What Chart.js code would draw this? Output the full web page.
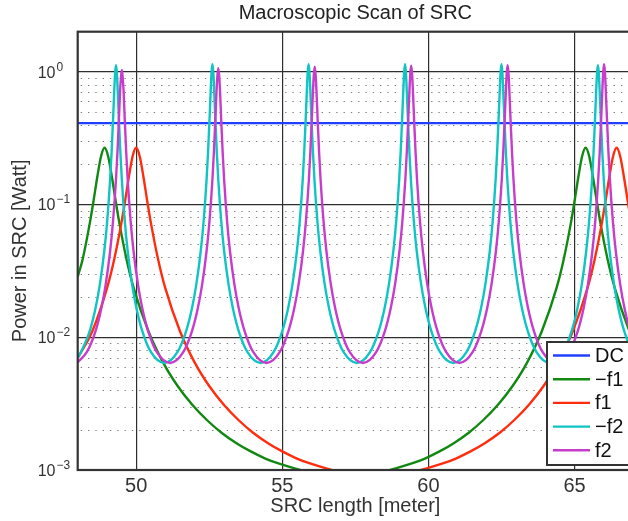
<!DOCTYPE html>
<html lang="en">
<head>
<meta charset="UTF-8">
<title>Macroscopic Scan of SRC</title>
<script src="https://cdn.jsdelivr.net/npm/chart.js"></script>
<style>
  html, body { margin: 0; padding: 0; background: #fff; overflow: hidden; }
  /* the figure is a bit wider than the window, so the right edge is cut like in the original */
  #wrap { position: relative; width: 640px; height: 521px; }
</style>
</head>
<body>
<div id="wrap"><canvas id="srcChart"></canvas></div>
<script>
const FONT = "'Liberation Sans', Arial, Helvetica, sans-serif";
const chartTitle = 'Macroscopic Scan of SRC';

// axis ticks
const xTicks = [50, 55, 60, 65];
const yTickValues = [1, 0.1, 0.01, 0.001];
const yTickExponents = ['0', '\u22121', '\u22122', '\u22123'];
const yMinorTicks = [0.002, 0.003, 0.004, 0.005, 0.006, 0.007, 0.008, 0.009,
                     0.02, 0.03, 0.04, 0.05, 0.06, 0.07, 0.08, 0.09,
                     0.2, 0.3, 0.4, 0.5, 0.6, 0.7, 0.8, 0.9];

// DC
const dcX = [48, 67];
const dcY = [0.41, 0.41];

// -f1
const minusF1X = [48.00, 48.17, 48.42, 48.545, 48.67, 48.795, 48.92, 49.045, 49.17, 49.295, 49.42, 49.67, 49.92,
  50.42, 50.92, 51.42, 51.92, 52.42, 52.92, 53.42, 53.92, 54.42, 54.92, 55.42, 55.92, 56.42, 57.15,
  57.88, 58.38, 58.88, 59.38, 59.88, 60.38, 60.88, 61.38, 61.88, 62.38, 62.88, 63.38, 63.88, 64.38,
  64.63, 64.88, 65.005, 65.13, 65.255, 65.38, 65.505, 65.63, 65.755, 65.88, 66.13, 66.38, 66.88, 67.38];
const minusF1Y = [0.0285, 0.0387, 0.0736, 0.1075, 0.161, 0.229, 0.267, 0.229, 0.161, 0.1075, 0.0736, 0.0387, 0.0233,
  0.0111, 0.00647, 0.00429, 0.00310, 0.00238, 0.00191, 0.00160, 0.00138, 0.00122, 0.00111, 0.00103, 0.00097, 0.00094, 0.00092,
  0.00094, 0.00097, 0.00103, 0.00111, 0.00122, 0.00138, 0.00160, 0.00191, 0.00238, 0.00310, 0.00429, 0.00647, 0.0111, 0.0233,
  0.0387, 0.0736, 0.1075, 0.161, 0.229, 0.267, 0.229, 0.161, 0.1075, 0.0736, 0.0387, 0.0233, 0.0111, 0.00647];

// f1
const f1X = [48.00, 48.50, 49.00, 49.25, 49.50, 49.625, 49.75, 49.875, 50.00, 50.125, 50.25, 50.375, 50.50, 50.75, 51.00, 51.50, 52.00,
  52.50, 53.00, 53.50, 54.00, 54.50, 55.00, 55.50, 56.00, 56.50, 57.00, 57.50, 58.22,
  58.94, 59.44, 59.94, 60.44, 60.94, 61.44, 61.94, 62.44, 62.94, 63.44, 63.94, 64.44, 64.94, 65.44,
  65.69, 65.94, 66.065, 66.19, 66.315, 66.44, 66.565, 66.69, 66.815, 66.94, 67.19];
const f1Y = [0.0070, 0.0111, 0.0233, 0.0387, 0.0736, 0.1075, 0.161, 0.229, 0.267, 0.229, 0.161, 0.1075, 0.0736, 0.0387, 0.0233, 0.0111, 0.00647,
  0.00429, 0.00310, 0.00238, 0.00191, 0.00160, 0.00138, 0.00122, 0.00111, 0.00103, 0.00097, 0.00094, 0.00092,
  0.00094, 0.00097, 0.00103, 0.00111, 0.00122, 0.00138, 0.00160, 0.00191, 0.00238, 0.00310, 0.00429, 0.00647, 0.0111, 0.0233,
  0.0387, 0.0736, 0.1075, 0.161, 0.229, 0.267, 0.229, 0.161, 0.1075, 0.0736, 0.0387];

// -f2
const minusF2X = [48.00,
  48.11, 48.41, 48.61, 48.76, 48.91, 49.01, 49.11, 49.16, 49.21, 49.25, 49.28, 49.31, 49.34, 49.37, 49.41, 49.46, 49.51, 49.61, 49.71, 49.86, 50.01, 50.21, 50.51, 50.96,
  51.41, 51.71, 51.91, 52.06, 52.21, 52.31, 52.41, 52.46, 52.51, 52.55, 52.58, 52.61, 52.64, 52.67, 52.71, 52.76, 52.81, 52.91, 53.01, 53.16, 53.31, 53.51, 53.81, 54.26,
  54.70, 55.00, 55.20, 55.35, 55.50, 55.60, 55.70, 55.75, 55.80, 55.84, 55.87, 55.90, 55.93, 55.96, 56.00, 56.05, 56.10, 56.20, 56.30, 56.45, 56.60, 56.80, 57.10, 57.55,
  58.00, 58.30, 58.50, 58.65, 58.80, 58.90, 59.00, 59.05, 59.10, 59.14, 59.17, 59.20, 59.23, 59.26, 59.30, 59.35, 59.40, 59.50, 59.60, 59.75, 59.90, 60.10, 60.40, 60.85,
  61.30, 61.60, 61.80, 61.95, 62.10, 62.20, 62.30, 62.35, 62.40, 62.44, 62.47, 62.50, 62.53, 62.56, 62.60, 62.65, 62.70, 62.80, 62.90, 63.05, 63.20, 63.40, 63.70, 64.15,
  64.60, 64.90, 65.10, 65.25, 65.40, 65.50, 65.60, 65.65, 65.70, 65.74, 65.77, 65.80, 65.83, 65.86, 65.90, 65.95, 66.00, 66.10, 66.20, 66.35, 66.50, 66.70, 67.00, 67.45];
const minusF2Y = [0.0070,
  0.00771, 0.01113, 0.01655, 0.0251, 0.0446, 0.0754, 0.154, 0.247, 0.435, 0.714, 0.98, 1.12, 0.98, 0.714, 0.435, 0.247, 0.154, 0.0754, 0.0446, 0.0251, 0.01655, 0.01113, 0.00771, 0.0064,
  0.00771, 0.01113, 0.01655, 0.0251, 0.0446, 0.0754, 0.154, 0.247, 0.435, 0.714, 0.99, 1.14, 0.99, 0.714, 0.435, 0.247, 0.154, 0.0754, 0.0446, 0.0251, 0.01655, 0.01113, 0.00771, 0.0064,
  0.00771, 0.01113, 0.01655, 0.0251, 0.0446, 0.0754, 0.154, 0.247, 0.435, 0.714, 0.99, 1.14, 0.99, 0.714, 0.435, 0.247, 0.154, 0.0754, 0.0446, 0.0251, 0.01655, 0.01113, 0.00771, 0.0064,
  0.00771, 0.01113, 0.01655, 0.0251, 0.0446, 0.0754, 0.154, 0.247, 0.435, 0.714, 0.99, 1.14, 0.99, 0.714, 0.435, 0.247, 0.154, 0.0754, 0.0446, 0.0251, 0.01655, 0.01113, 0.00771, 0.0064,
  0.00771, 0.01113, 0.01655, 0.0251, 0.0446, 0.0754, 0.154, 0.247, 0.435, 0.714, 0.99, 1.14, 0.99, 0.714, 0.435, 0.247, 0.154, 0.0754, 0.0446, 0.0251, 0.01655, 0.01113, 0.00771, 0.0064,
  0.00771, 0.01113, 0.01655, 0.0251, 0.0446, 0.0754, 0.154, 0.247, 0.435, 0.714, 0.98, 1.12, 0.98, 0.714, 0.435, 0.247, 0.154, 0.0754, 0.0446, 0.0251, 0.01655, 0.01113, 0.00771, 0.0064];

// f2
const f2X = [48.00,
  48.31, 48.61, 48.81, 48.96, 49.11, 49.21, 49.31, 49.36, 49.41, 49.45, 49.48, 49.51, 49.54, 49.57, 49.61, 49.66, 49.71, 49.81, 49.91, 50.06, 50.21, 50.41, 50.71, 51.16,
  51.61, 51.91, 52.11, 52.26, 52.41, 52.51, 52.61, 52.66, 52.71, 52.75, 52.78, 52.81, 52.84, 52.87, 52.91, 52.96, 53.01, 53.11, 53.21, 53.36, 53.51, 53.71, 54.01, 54.46,
  54.91, 55.21, 55.41, 55.56, 55.71, 55.81, 55.91, 55.96, 56.01, 56.05, 56.08, 56.11, 56.14, 56.17, 56.21, 56.26, 56.31, 56.41, 56.51, 56.66, 56.81, 57.01, 57.31, 57.76,
  58.21, 58.51, 58.71, 58.86, 59.01, 59.11, 59.21, 59.26, 59.31, 59.35, 59.38, 59.41, 59.44, 59.47, 59.51, 59.56, 59.61, 59.71, 59.81, 59.96, 60.11, 60.31, 60.61, 61.06,
  61.51, 61.81, 62.01, 62.16, 62.31, 62.41, 62.51, 62.56, 62.61, 62.65, 62.68, 62.71, 62.74, 62.77, 62.81, 62.86, 62.91, 63.01, 63.11, 63.26, 63.41, 63.61, 63.91, 64.36,
  64.81, 65.11, 65.31, 65.46, 65.61, 65.71, 65.81, 65.86, 65.91, 65.95, 65.98, 66.01, 66.04, 66.07, 66.11, 66.16, 66.21, 66.31, 66.41, 66.56, 66.71, 66.91, 67.21];
const f2Y = [0.0065,
  0.00771, 0.01113, 0.01655, 0.0251, 0.0446, 0.0754, 0.154, 0.247, 0.435, 0.714, 0.90, 1.03, 0.90, 0.714, 0.435, 0.247, 0.154, 0.0754, 0.0446, 0.0251, 0.01655, 0.01113, 0.00771, 0.0064,
  0.00771, 0.01113, 0.01655, 0.0251, 0.0446, 0.0754, 0.154, 0.247, 0.435, 0.714, 0.93, 1.06, 0.93, 0.714, 0.435, 0.247, 0.154, 0.0754, 0.0446, 0.0251, 0.01655, 0.01113, 0.00771, 0.0064,
  0.00771, 0.01113, 0.01655, 0.0251, 0.0446, 0.0754, 0.154, 0.247, 0.435, 0.714, 0.95, 1.09, 0.95, 0.714, 0.435, 0.247, 0.154, 0.0754, 0.0446, 0.0251, 0.01655, 0.01113, 0.00771, 0.0064,
  0.00771, 0.01113, 0.01655, 0.0251, 0.0446, 0.0754, 0.154, 0.247, 0.435, 0.714, 0.97, 1.11, 0.97, 0.714, 0.435, 0.247, 0.154, 0.0754, 0.0446, 0.0251, 0.01655, 0.01113, 0.00771, 0.0064,
  0.00771, 0.01113, 0.01655, 0.0251, 0.0446, 0.0754, 0.154, 0.247, 0.435, 0.714, 0.98, 1.12, 0.98, 0.714, 0.435, 0.247, 0.154, 0.0754, 0.0446, 0.0251, 0.01655, 0.01113, 0.00771, 0.0064,
  0.00771, 0.01113, 0.01655, 0.0251, 0.0446, 0.0754, 0.154, 0.247, 0.435, 0.714, 0.99, 1.14, 0.99, 0.714, 0.435, 0.247, 0.154, 0.0754, 0.0446, 0.0251, 0.01655, 0.01113, 0.00771];

const toPoints = (xs, ys) => xs.map((x, i) => ({ x: x, y: ys[i] }));

function series(label, xs, ys, color, order) {
    return {
        label: label,
        data: toPoints(xs, ys),
        borderColor: color,
        backgroundColor: color,
        borderWidth: 2.4,
        pointRadius: 0,
        fill: false,
        cubicInterpolationMode: 'monotone',
        order: order
    };
}

// minor grid, axes box, y labels with exponents, title and legend
const matlabLook = {
    id: 'matlabLook',
    beforeDatasetsDraw(chart) {
        const { ctx, chartArea: a, scales: { y } } = chart;
        ctx.save();
        ctx.strokeStyle = '#808080';
        ctx.lineWidth = 1;
        ctx.setLineDash([1.4, 5.9]);
        yMinorTicks.forEach(v => {
            const py = Math.round(y.getPixelForValue(v)) + 0.5;
            ctx.beginPath();
            ctx.moveTo(a.left + 3, py);
            ctx.lineTo(a.right, py);
            ctx.stroke();
        });
        ctx.restore();
    },
    afterDraw(chart) {
        const { ctx, chartArea: a, scales: { y } } = chart;
        ctx.save();

        // axes box
        ctx.strokeStyle = '#333';
        ctx.lineWidth = 2.2;
        ctx.strokeRect(a.left, a.top, a.right - a.left, a.bottom - a.top);

        // y tick labels 10^n
        ctx.fillStyle = '#333';
        ctx.textAlign = 'left';
        ctx.textBaseline = 'alphabetic';
        yTickValues.forEach((v, i) => {
            const py = y.getPixelForValue(v);
            ctx.font = '16px ' + FONT;
            ctx.fillText('10', 37.7, py + 6);
            const w = ctx.measureText('10').width;
            ctx.font = '12px ' + FONT;
            ctx.fillText(yTickExponents[i], 37.7 + w + 1, py - 1);
        });

        // title over the axes
        ctx.font = '20px ' + FONT;
        ctx.textAlign = 'center';
        ctx.fillStyle = '#222';
        ctx.fillText(chartTitle, (a.left + a.right) / 2, 19);

        // legend box, south east inside the axes
        const lx = a.right - 86, ly = a.bottom - 128, lw = 83, lh = 123;
        ctx.fillStyle = '#fff';
        ctx.fillRect(lx, ly, lw, lh);
        ctx.strokeStyle = '#333';
        ctx.lineWidth = 2;
        ctx.strokeRect(lx, ly, lw, lh);
        ctx.textAlign = 'left';
        ctx.textBaseline = 'middle';
        ctx.font = '20px ' + FONT;
        chart.data.datasets.forEach((ds, i) => {
            const ry = ly + 13.5 + i * 23.7;
            ctx.strokeStyle = ds.borderColor;
            ctx.lineWidth = 2.4;
            ctx.beginPath();
            ctx.moveTo(lx + 6, ry);
            ctx.lineTo(lx + 43, ry);
            ctx.stroke();
            ctx.fillStyle = '#111';
            ctx.fillText(ds.label, lx + 48, ry + 1);
        });
        ctx.restore();
    }
};

const ctx = document.getElementById('srcChart').getContext('2d');
const srcChart = new Chart(ctx, {
    type: 'line',
    data: {
        datasets: [
            series('DC', dcX, dcY, '#1f40ff', 5),
            series('\u2212f1', minusF1X, minusF1Y, '#118811', 4),
            series('f1', f1X, f1Y, '#ff2d0d', 3),
            series('\u2212f2', minusF2X, minusF2Y, '#10c4c4', 2),
            series('f2', f2X, f2Y, '#c83ccc', 1)
        ]
    },
    options: {
        responsive: true,
        maintainAspectRatio: false,
        animation: false,
        layout: { padding: { top: 31.7, right: 7, left: 0, bottom: 0 } },
        plugins: {
            legend: { display: false },
            tooltip: { enabled: false },
            title: { display: false }
        },
        scales: {
            x: {
                type: 'linear',
                min: 48,
                max: 67,
                afterBuildTicks: s => { s.ticks = xTicks.map(v => ({ value: v })); },
                afterFit: s => { s.height = 51; },
                ticks: { font: { size: 20, family: FONT }, color: '#333', padding: 4, maxRotation: 0, autoSkip: false },
                grid: { color: '#2e2e2e', lineWidth: 1.2, drawTicks: false },
                border: { display: false },
                title: {
                    display: true,
                    text: 'SRC length [meter]',
                    font: { size: 20, family: FONT },
                    color: '#333',
                    padding: { top: 0, bottom: 2.6 }
                }
            },
            y: {
                type: 'logarithmic',
                min: 0.001,
                max: 2,
                afterBuildTicks: s => { s.ticks = yTickValues.map(v => ({ value: v })); },
                afterFit: s => { s.width = 77.7; },
                ticks: { display: false },
                grid: { color: '#2e2e2e', lineWidth: 1.2, drawTicks: false },
                border: { display: false },
                title: {
                    display: true,
                    text: 'Power in SRC [Watt]',
                    font: { size: 20, family: FONT },
                    color: '#333',
                    padding: { top: 8, bottom: 0 }
                }
            }
        }
    },
    plugins: [matlabLook]
});
</script>
</body>
</html>
